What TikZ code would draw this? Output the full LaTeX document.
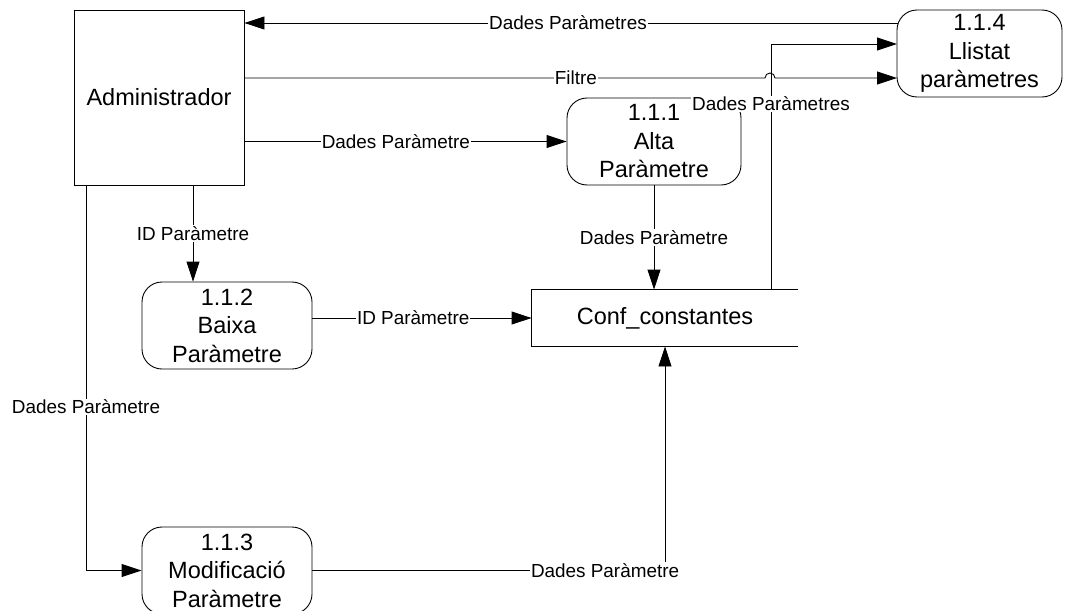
\documentclass[tikz,border=0pt]{standalone}
\usepackage{fontspec}
\setmainfont{Liberation Sans}
\usetikzlibrary{arrows.meta}
\begin{document}
\begin{tikzpicture}[x=1pt,y=1pt,line width=0.9pt,
  >={Triangle[length=20pt,width=13pt]},
  ext/.style={draw,rectangle,inner sep=0pt,minimum width=170pt,minimum height=175pt,
    font=\fontsize{23.5}{28.5}\selectfont},
  proc/.style={draw,rectangle,rounded corners=20pt,inner sep=0pt,minimum height=87pt,
    align=center,font=\fontsize{23.5}{28.5}\selectfont},
  store/.style={rectangle,inner sep=0pt,minimum width=266pt,minimum height=56pt,
    font=\fontsize{23.5}{28.5}\selectfont},
  lbl/.style={fill=white,inner sep=1pt,font=\fontsize{18.9}{22}\selectfont}]
\useasboundingbox (0,0) rectangle (1067,-610);

\node[ext] (adm) at (159,-97.5) {Administrador};
\node[proc,minimum width=174pt] (p1) at (654,-141.5) {1.1.1\\Alta\\Paràmetre};
\node[proc,minimum width=165pt] (p4) at (979.5,-53.5) {1.1.4\\Llistat\\paràmetres};
\node[proc,minimum width=170pt] (p2) at (227,-325.5) {1.1.2\\Baixa\\Paràmetre};
\node[proc,minimum width=170pt] (p3) at (227,-570.5) {1.1.3\\Modificació\\Paràmetre};
\node[store] (conf) at (665,-318) {Conf\_constantes};
\draw (conf.north east) -- (conf.north west) -- (conf.south west) -- (conf.south east);

% named coordinates for free ends and bends
\coordinate (a1) at (898,-23);
\coordinate (f1) at (244,-78);
\coordinate (f2) at (765,-78);
\coordinate (f3) at (897,-78);
\coordinate (c1) at (771,-290);
\coordinate (c2) at (771,-44);
\coordinate (c3) at (897,-44);
\coordinate (x2) at (193,0);
\coordinate (x3) at (86,0);

% 1.1.4 -> Administrador
\draw[->] (a1) -- node[lbl,pos=0.505] {Dades Paràmetres} (adm.east |- a1);
% Administrador -> 1.1.4 (Filtre) with line hop
\draw[->] (f1) -- node[lbl,pos=0.637] {Filtre} (f2) arc (180:0:5) -- (f3);
% Conf_constantes -> 1.1.4
\draw[->] (c1) -- (c2) -- (c3);
% Administrador -> 1.1.1
\draw[->] (adm.east |- p1.west) -- node[lbl,pos=0.47] {Dades Paràmetre} (p1.west);
% Administrador -> 1.1.2
\draw[->] (adm.south -| x2) -- node[lbl] {ID Paràmetre} (p2.north -| x2);
% Administrador -> 1.1.3
\draw[->] (adm.south -| x3) -- node[lbl,pos=0.575] {Dades Paràmetre} (p3.west -| x3) -- (p3.west);
% 1.1.2 -> Conf_constantes
\draw[->] (p2.east |- conf.west) -- node[lbl,pos=0.46] {ID Paràmetre} (conf.west);
% 1.1.1 -> Conf_constantes
\draw[->] (p1.south) -- node[lbl] {Dades Paràmetre} (p1.south |- conf.north);
% 1.1.3 -> Conf_constantes
\draw[->] (p3.east) -| node[lbl,pos=0.415] {Dades Paràmetre} (conf.south);
% label on Conf -> 1.1.4 drawn last (covers corner of 1.1.1)
\path (c1) -- node[lbl,pos=0.756] {Dades Paràmetres} (c2);
\end{tikzpicture}
\end{document}
